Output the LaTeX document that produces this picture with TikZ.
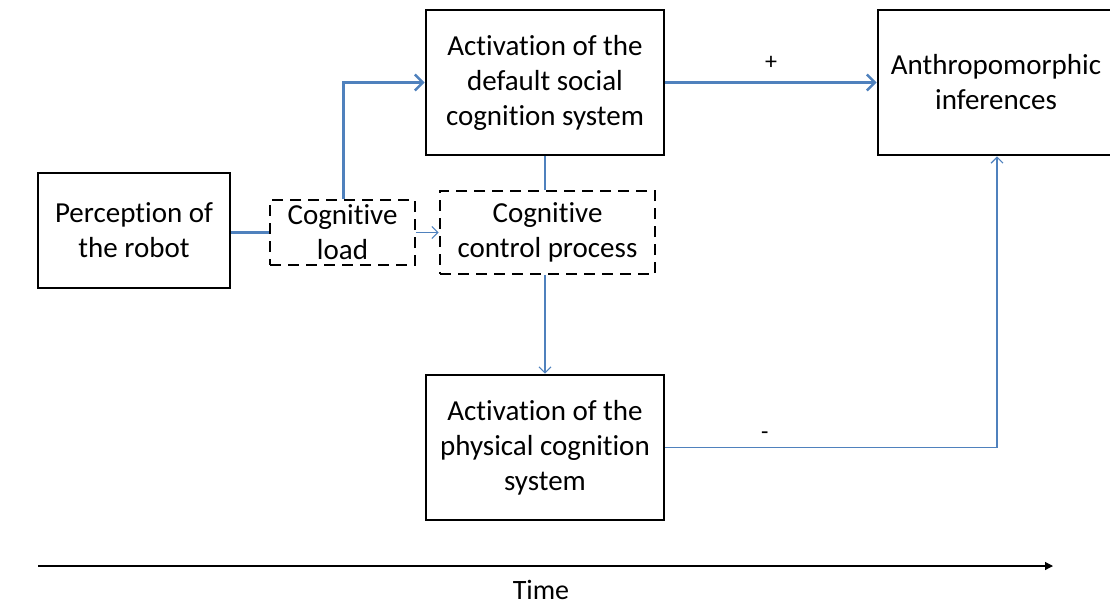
\documentclass[tikz,border=0pt]{standalone}
\usepackage{fontspec}
\setmainfont{Carlito}[Ligatures={NoCommon}]
\usetikzlibrary{arrows.meta}
\definecolor{ofblue}{HTML}{4F81BD}
\begin{document}
\begin{tikzpicture}[x=1pt,y=-1pt,
  box/.style={draw=black,line width=2.6pt,minimum width=#1,inner sep=0pt,align=center,font=\fontsize{29}{35}\selectfont},
  dbox/.style={box=#1,dash pattern=on 11pt off 7pt},
  thick link/.style={draw=ofblue,line width=3pt},
  thin link/.style={draw=ofblue,line width=1.3pt},
  openhead/.style={-{Straight Barb[length=8pt,width=16pt,line width=2.5pt]}},
  smallhead/.style={-{Straight Barb[length=6pt,width=12pt,line width=1.2pt]}},
  lbl/.style={font=\fontsize{24}{28}\selectfont}]
\useasboundingbox (0,0) rectangle (1110,606);
\node[box=192pt,minimum height=115pt] (perc) at (134,230.5) {Perception of\\the robot};
\node[dbox=145pt,minimum height=65pt] (load) at (342.5,232.5) {Cognitive\\load};
\node[dbox=215pt,minimum height=83pt] (ctrl) at (547.5,232.5) {Cognitive\\control process};
\node[box=238pt,minimum height=145pt] (social) at (545,82.5) {Activation of the\\default social\\cognition system};
\node[box=236pt,minimum height=145pt] (anth) at (996,82.5) {Anthropomorphic\\inferences};
\node[box=238pt,minimum height=145pt] (phys) at (545,447.5) {Activation of the\\physical cognition\\system};
\coordinate (up) at (343,82.5);
\coordinate (corner) at (997,447.5);
\draw[thick link] (load.west -| perc.east) -- (load.west);
\draw[thick link,openhead] (load.north -| up) -- (up) -- (social.west);
\draw[thin link,smallhead] (load.east) -- (ctrl.west);
\draw[thin link] (social.south) -- (ctrl.north -| social.south);
\draw[thin link,smallhead] (ctrl.south -| phys.north) -- (phys.north);
\draw[thick link,openhead] (social.east) -- node[lbl,above=8pt,black] {+} (anth.west);
\draw[thin link,smallhead] (phys.east) -- node[lbl,above=4pt,pos=0.3,black] {-} (corner) -- (corner |- anth.south);
\coordinate (t0) at (38,566);
\coordinate (t1) at (1053,566);
\draw[line width=1.2pt,-{Triangle[length=8pt,width=8pt]}] (t0) -- (t1);
\node[font=\fontsize{28}{32}\selectfont] (time) at (541,590) {Time};
\end{tikzpicture}
\end{document}
